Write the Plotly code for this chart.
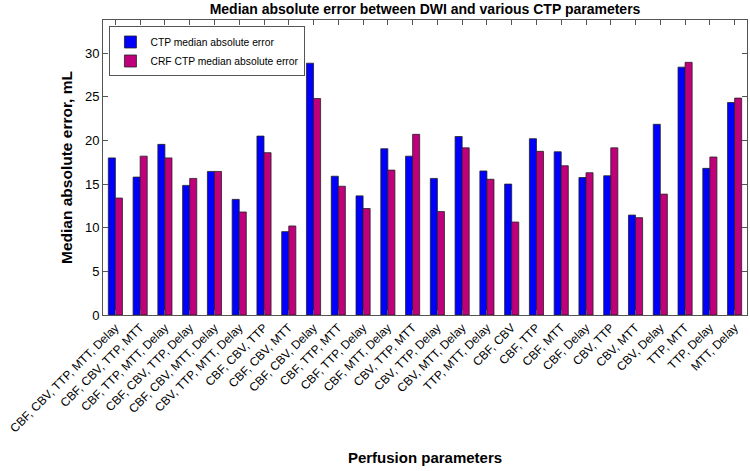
import plotly.graph_objects as go

categories = [
    "CBF, CBV, TTP, MTT, Delay", "CBF, CBV, TTP, MTT", "CBF, TTP, MTT, Delay",
    "CBF, CBV, TTP, Delay", "CBF, CBV, MTT, Delay", "CBV, TTP, MTT, Delay",
    "CBF, CBV, TTP", "CBF, CBV, MTT", "CBF, CBV, Delay", "CBF, TTP, MTT",
    "CBF, TTP, Delay", "CBF, MTT, Delay", "CBV, TTP, MTT", "CBV, TTP, Delay",
    "CBV, MTT, Delay", "TTP, MTT, Delay", "CBF, CBV", "CBF, TTP", "CBF, MTT",
    "CBF, Delay", "CBV, TTP", "CBV, MTT", "CBV, Delay", "TTP, MTT",
    "TTP, Delay", "MTT, Delay",
]
ctp_mae = [18.0, 15.8, 19.55, 14.85, 16.45, 13.25, 20.5, 9.55, 28.85, 15.9,
           13.65, 19.05, 18.2, 15.65, 20.45, 16.5, 15.0, 20.2, 18.7, 15.75,
           15.95, 11.45, 21.85, 28.4, 16.8, 24.35]
crf_ctp_mae = [13.4, 18.2, 18.0, 15.65, 16.45, 11.8, 18.6, 10.2, 24.8, 14.75,
               12.2, 16.6, 20.7, 11.85, 19.15, 15.55, 10.65, 18.75, 17.1, 16.3,
               19.15, 11.15, 13.85, 28.95, 18.1, 24.85]

fig = go.Figure()
fig.add_trace(go.Bar(x=categories, y=ctp_mae, name="CTP median absolute error",
                     marker=dict(color="#0000FF", line=dict(color="#222222", width=0.8))))
fig.add_trace(go.Bar(x=categories, y=crf_ctp_mae, name="CRF CTP median absolute error",
                     marker=dict(color="rgb(192,0,122)", line=dict(color="#222222", width=0.8))))

fig.update_layout(
    width=750, height=471,
    margin=dict(l=103, r=3, t=20, b=156, autoexpand=False),
    paper_bgcolor="white", plot_bgcolor="white",
    barmode="group", bargap=0.43, bargroupgap=0,
    font=dict(family="Liberation Sans, Arial, sans-serif", color="#000000"),
    title=dict(text="<b>Median absolute error between DWI and various CTP parameters</b>",
               x=0.5, xref="paper", xanchor="center", y=0.992, yanchor="top",
               font=dict(size=14, color="#000000")),
    showlegend=True,
    legend=dict(x=0.01, y=0.978, xanchor="left", yanchor="top",
                bgcolor="white", bordercolor="#555555", borderwidth=1,
                font=dict(size=10.3), tracegroupgap=0, itemwidth=30),
    xaxis=dict(
        type="category", range=[-0.5, 25.5], tickangle=-45,
        tickfont=dict(size=12, color="#000000"),
        ticks="inside", ticklen=5, tickcolor="#555555",
        showline=True, linecolor="#555555", linewidth=1, mirror="ticks",
        showgrid=False, automargin=False,
        title=dict(text="<b>Perfusion parameters</b>", font=dict(size=15), standoff=18),
    ),
    yaxis=dict(
        range=[0, 33.8], tickvals=[0, 5, 10, 15, 20, 25, 30],
        tickfont=dict(size=13, color="#000000"),
        ticks="inside", ticklen=5, tickcolor="#555555",
        showline=True, linecolor="#555555", linewidth=1, mirror="ticks",
        showgrid=False, zeroline=False, automargin=False,
        title=dict(text="<b>Median absolute error, mL</b>", font=dict(size=15.5), standoff=8),
    ),
)

fig.write_html("out.html", config={"displayModeBar": False},
               post_script="document.body.style.margin='0';document.body.style.overflow='hidden';")
